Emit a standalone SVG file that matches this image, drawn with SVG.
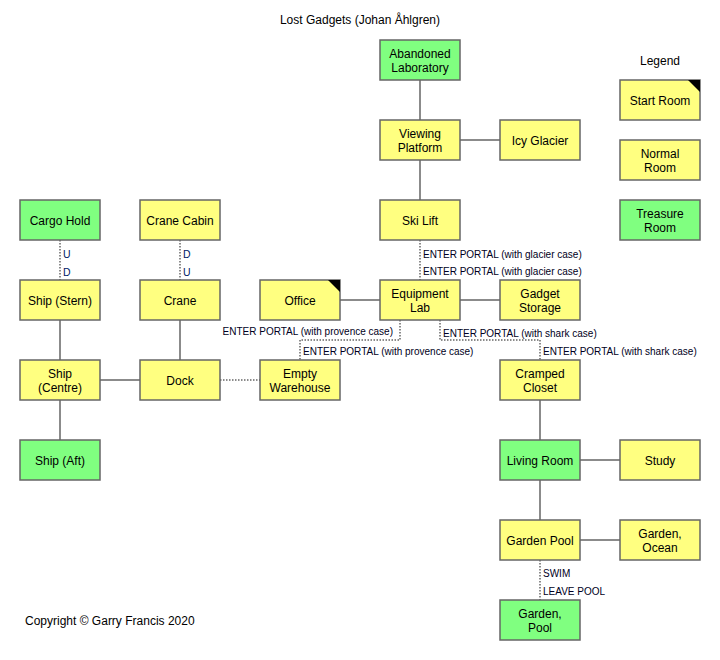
<svg xmlns="http://www.w3.org/2000/svg" width="720" height="660" viewBox="0 0 720 660">
<style>
text{font-family:"Liberation Sans",Arial,sans-serif;font-size:12px;fill:#000}
.y{fill:#ffff80;stroke:#666;stroke-width:1.5}
.g{fill:#80ff80;stroke:#666;stroke-width:1.5}
.n text{text-anchor:middle}
.s{stroke:#666;stroke-width:1.5;fill:none}
.d{stroke:#666;stroke-width:1.5;fill:none;stroke-dasharray:1.5 1.5}
.l{font-size:10px;fill:#000022}
.ud{font-size:10.5px;fill:#001a66}
</style>
<rect width="720" height="660" fill="#fff"/>
<text x="360" y="24" text-anchor="middle">Lost Gadgets (Johan Åhlgren)</text>
<g id="connectors">
<path class="s" d="M420 80V120M460 140H500M420 160V200M340 300H380M460 300H500M60 320V360M100 380H140M180 320V360M60 400V440M540 400V440M580 460H620M540 480V520M580 540H620"/>
<path class="d" d="M60 240V280M180 240V280M220 380H260M420 240V280M400 320V340H300V360M440 320V340H540V360M540 560V600"/>
<text class="ud" x="63" y="258">U</text><text class="ud" x="63" y="276">D</text>
<text class="ud" x="183" y="258">D</text><text class="ud" x="183" y="276">U</text>
<text class="l" x="423" y="258">ENTER PORTAL (with glacier case)</text>
<text class="l" x="423" y="275">ENTER PORTAL (with glacier case)</text>
<text class="l" x="393" y="335" text-anchor="end">ENTER PORTAL (with provence case)</text>
<text class="l" x="303" y="355">ENTER PORTAL (with provence case)</text>
<text class="l" x="443" y="337">ENTER PORTAL (with shark case)</text>
<text class="l" x="543" y="355">ENTER PORTAL (with shark case)</text>
<text class="l" x="543" y="577">SWIM</text>
<text class="l" x="543" y="595">LEAVE POOL</text>
</g>
<g id="abandoned" class="n"><rect class="g" x="380" y="40" width="80" height="40"/><text x="420" y="58">Abandoned</text><text x="420" y="72">Laboratory</text></g>
<g id="viewing" class="n"><rect class="y" x="380" y="120" width="80" height="40"/><text x="420" y="138">Viewing</text><text x="420" y="152">Platform</text></g>
<g id="icy" class="n"><rect class="y" x="500" y="120" width="80" height="40"/><text x="540" y="145">Icy Glacier</text></g>
<g id="skilift" class="n"><rect class="y" x="380" y="200" width="80" height="40"/><text x="420" y="225">Ski Lift</text></g>
<g id="cargo" class="n"><rect class="g" x="20" y="200" width="80" height="40"/><text x="60" y="225">Cargo Hold</text></g>
<g id="cranecabin" class="n"><rect class="y" x="140" y="200" width="80" height="40"/><text x="180" y="225">Crane Cabin</text></g>
<g id="stern" class="n"><rect class="y" x="20" y="280" width="80" height="40"/><text x="60" y="305">Ship (Stern)</text></g>
<g id="crane" class="n"><rect class="y" x="140" y="280" width="80" height="40"/><text x="180" y="305">Crane</text></g>
<g id="office" class="n"><rect class="y" x="260" y="280" width="80" height="40"/><path d="M328 280H340V292Z" fill="#000"/><text x="300" y="305">Office</text></g>
<g id="eqlab" class="n"><rect class="y" x="380" y="280" width="80" height="40"/><text x="420" y="298">Equipment</text><text x="420" y="312">Lab</text></g>
<g id="gadget" class="n"><rect class="y" x="500" y="280" width="80" height="40"/><text x="540" y="298">Gadget</text><text x="540" y="312">Storage</text></g>
<g id="centre" class="n"><rect class="y" x="20" y="360" width="80" height="40"/><text x="60" y="378">Ship</text><text x="60" y="392">(Centre)</text></g>
<g id="dock" class="n"><rect class="y" x="140" y="360" width="80" height="40"/><text x="180" y="385">Dock</text></g>
<g id="warehouse" class="n"><rect class="y" x="260" y="360" width="80" height="40"/><text x="300" y="378">Empty</text><text x="300" y="392">Warehouse</text></g>
<g id="closet" class="n"><rect class="y" x="500" y="360" width="80" height="40"/><text x="540" y="378">Cramped</text><text x="540" y="392">Closet</text></g>
<g id="aft" class="n"><rect class="g" x="20" y="440" width="80" height="40"/><text x="60" y="465">Ship (Aft)</text></g>
<g id="living" class="n"><rect class="g" x="500" y="440" width="80" height="40"/><text x="540" y="465">Living Room</text></g>
<g id="study" class="n"><rect class="y" x="620" y="440" width="80" height="40"/><text x="660" y="465">Study</text></g>
<g id="gardenpool" class="n"><rect class="y" x="500" y="520" width="80" height="40"/><text x="540" y="545">Garden Pool</text></g>
<g id="ocean" class="n"><rect class="y" x="620" y="520" width="80" height="40"/><text x="660" y="538">Garden,</text><text x="660" y="552">Ocean</text></g>
<g id="pool" class="n"><rect class="g" x="500" y="600" width="80" height="40"/><text x="540" y="618">Garden,</text><text x="540" y="632">Pool</text></g>
<g id="legend" class="n">
<text x="660" y="65">Legend</text>
<rect class="y" x="620" y="80" width="80" height="40"/><path d="M688 80H700V92Z" fill="#000"/><text x="660" y="105">Start Room</text>
<rect class="y" x="620" y="140" width="80" height="40"/><text x="660" y="158">Normal</text><text x="660" y="172">Room</text>
<rect class="g" x="620" y="200" width="80" height="40"/><text x="660" y="218">Treasure</text><text x="660" y="232">Room</text>
</g>
<text x="25" y="625">Copyright © Garry Francis 2020</text>
</svg>
